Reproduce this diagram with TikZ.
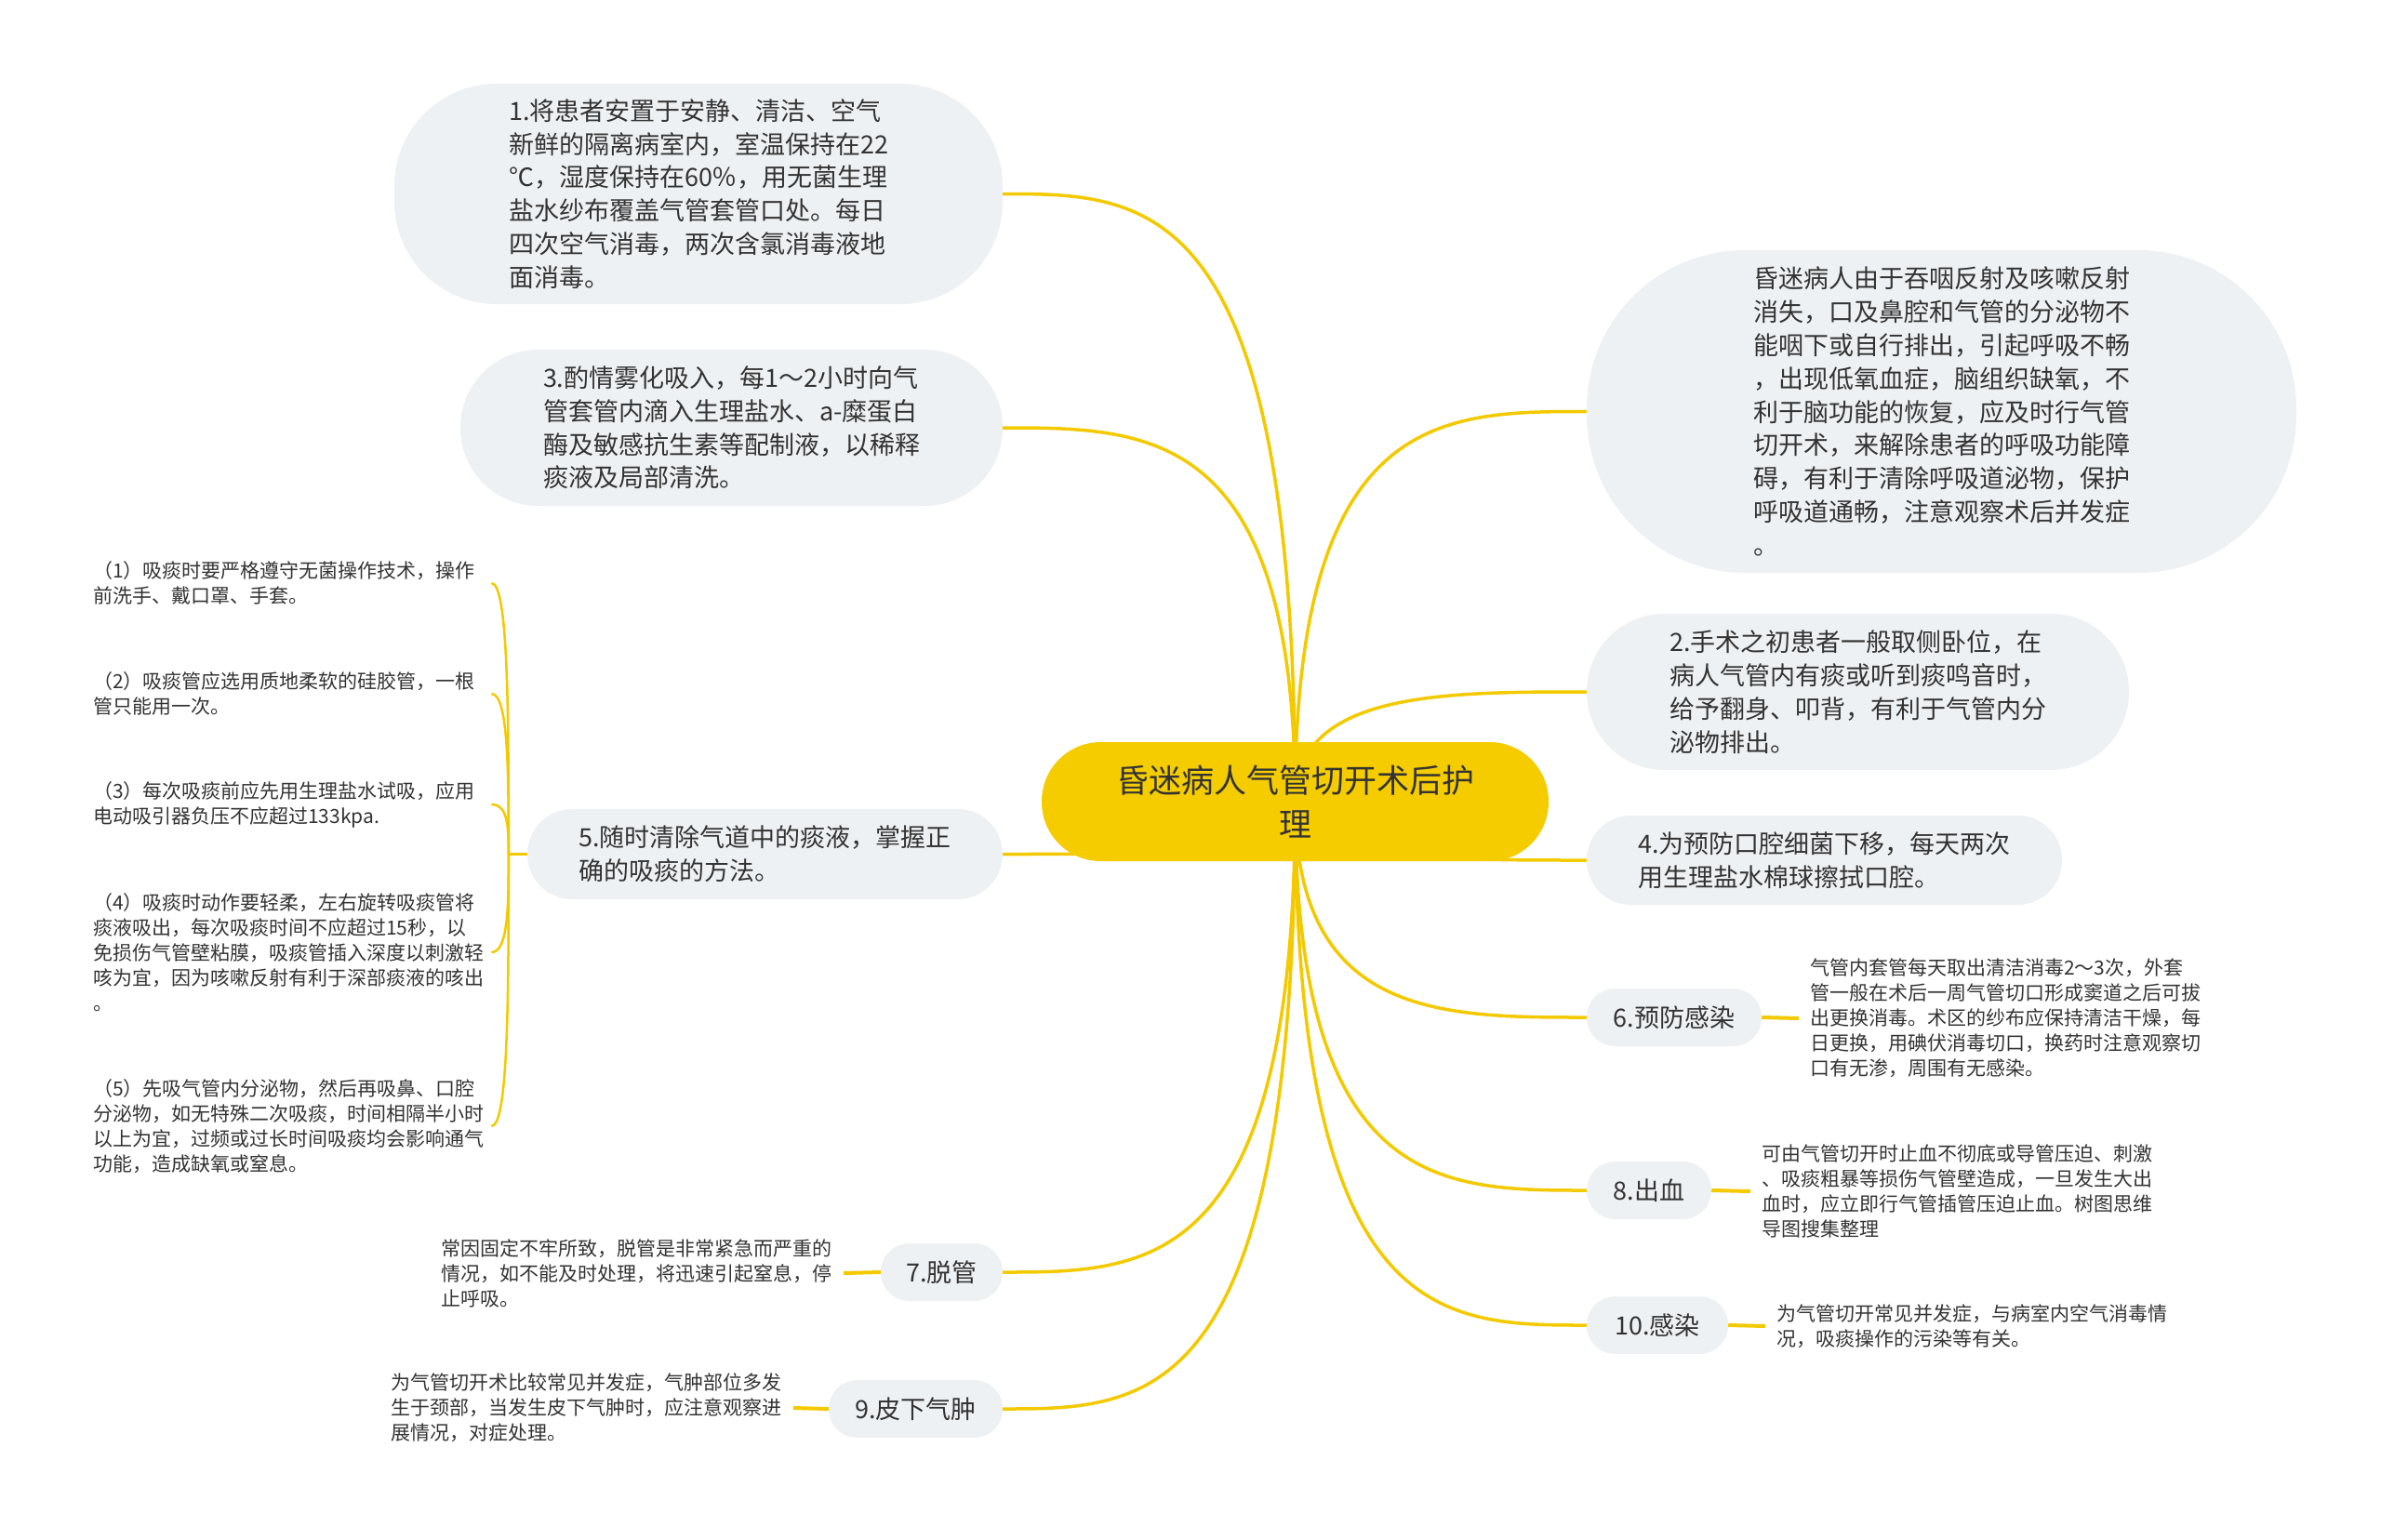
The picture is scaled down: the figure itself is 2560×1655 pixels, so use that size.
\documentclass[tikz,border=0pt]{standalone}
\usepackage{fontspec}
\newfontfamily\cjk{Noto Sans CJK SC}
\usetikzlibrary{calc}
\pgfdeclarelayer{bg}
\pgfsetlayers{bg,main}
\definecolor{gold}{HTML}{F5CC00}
\definecolor{linec}{HTML}{F3C900}
\definecolor{nodegray}{HTML}{EEF1F4}
\definecolor{txt}{HTML}{333333}
\tikzset{
  topic/.style={fill=nodegray, text=txt, font=\cjk\fontsize{27}{35.8}\selectfont, align=left, inner sep=0pt},
  rootnode/.style={fill=gold, text=txt, font=\cjk\fontsize{35}{47}\selectfont, align=center, inner sep=0pt},
  detail/.style={text=txt, font=\cjk\fontsize{21}{27}\selectfont, align=left, inner xsep=12pt, inner ysep=0pt},
  subitem/.style={text=txt, font=\cjk\fontsize{21}{27}\selectfont, align=left, text width=420pt, inner xsep=8pt, inner ysep=0pt},
  mainline/.style={draw=linec, line width=3.5pt},
  detline/.style={draw=linec, line width=4pt},
  subline/.style={draw=linec, line width=2.5pt},
}
\newcommand{\branch}[2]{\draw[mainline] (#1.center) .. controls (#1.center |- #2) and ($(#1.center |- #2)!0.5!(#2)$) .. (#2);}
\begin{document}
\begin{tikzpicture}[x=1pt,y=-1pt]
\path[use as bounding box] (0,0) rectangle (2560,1655);

% central
\node[rootnode, minimum width=545pt, minimum height=128pt, rounded corners=63.5pt] (c) at (1392.5,862) {昏迷病人气管切开术后护\\理};

% left topics
\node[topic, minimum width=654pt, minimum height=237pt, rounded corners=110pt] (n1) at (751,208.5) {1.将患者安置于安静、清洁、空气\\新鲜的隔离病室内，室温保持在22\\℃，湿度保持在60％，用无菌生理\\盐水纱布覆盖气管套管口处。每日\\四次空气消毒，两次含氯消毒液地\\面消毒。};
\node[topic, minimum width=583pt, minimum height=168pt, rounded corners=83.5pt] (n3) at (786.5,460) {3.酌情雾化吸入，每1～2小时向气\\管套管内滴入生理盐水、a-糜蛋白\\酶及敏感抗生素等配制液，以稀释\\痰液及局部清洗。};
\node[topic, minimum width=511pt, minimum height=97pt, rounded corners=48pt] (n5) at (822.5,918.5) {5.随时清除气道中的痰液，掌握正\\确的吸痰的方法。};
\node[topic, minimum width=131pt, minimum height=62pt, rounded corners=30.5pt] (n7) at (1012.5,1368) {7.脱管};
\node[topic, minimum width=187pt, minimum height=62pt, rounded corners=30.5pt] (n9) at (984.5,1515) {9.皮下气肿};

% right topics
\node[topic, minimum width=763pt, minimum height=347pt, rounded corners=170pt] (nt) at (2087.5,442.5) {昏迷病人由于吞咽反射及咳嗽反射\\消失，口及鼻腔和气管的分泌物不\\能咽下或自行排出，引起呼吸不畅\\，出现低氧血症，脑组织缺氧，不\\利于脑功能的恢复，应及时行气管\\切开术，来解除患者的呼吸功能障\\碍，有利于清除呼吸道泌物，保护\\呼吸道通畅，注意观察术后并发症\\。};
\node[topic, minimum width=583pt, minimum height=168pt, rounded corners=83.5pt] (n2) at (1997.5,744) {2.手术之初患者一般取侧卧位，在\\病人气管内有痰或听到痰鸣音时，\\给予翻身、叩背，有利于气管内分\\泌物排出。};
\node[topic, minimum width=511pt, minimum height=96pt, rounded corners=47.5pt] (n4) at (1961.5,925) {4.为预防口腔细菌下移，每天两次\\用生理盐水棉球擦拭口腔。};
\node[topic, minimum width=188pt, minimum height=62pt, rounded corners=30.5pt] (n6) at (1800,1094) {6.预防感染};
\node[topic, minimum width=134pt, minimum height=62pt, rounded corners=30.5pt] (n8) at (1773,1280) {8.出血};
\node[topic, minimum width=152pt, minimum height=62pt, rounded corners=30.5pt] (n10) at (1782,1425) {10.感染};

% details
\node[detail, anchor=west] (d6) at (1934,1095) {气管内套管每天取出清洁消毒2～3次，外套\\管一般在术后一周气管切口形成窦道之后可拔\\出更换消毒。术区的纱布应保持清洁干燥，每\\日更换，用碘伏消毒切口，换药时注意观察切\\口有无渗，周围有无感染。};
\node[detail, anchor=west] (d8) at (1882,1281) {可由气管切开时止血不彻底或导管压迫、刺激\\、吸痰粗暴等损伤气管壁造成，一旦发生大出\\血时，应立即行气管插管压迫止血。树图思维\\导图搜集整理};
\node[detail, anchor=west] (d10) at (1898,1426) {为气管切开常见并发症，与病室内空气消毒情\\况，吸痰操作的污染等有关。};
\node[detail, anchor=east] (d7) at (907,1369) {常因固定不牢所致，脱管是非常紧急而严重的\\情况，如不能及时处理，将迅速引起窒息，停\\止呼吸。};
\node[detail, anchor=east] (d9) at (853,1514) {为气管切开术比较常见并发症，气肿部位多发\\生于颈部，当发生皮下气肿时，应注意观察进\\展情况，对症处理。};

% sub items of 5
\node[subitem, anchor=west] (s1) at (92,627) {（1）吸痰时要严格遵守无菌操作技术，操作\\前洗手、戴口罩、手套。};
\node[subitem, anchor=west] (s2) at (92,746) {（2）吸痰管应选用质地柔软的硅胶管，一根\\管只能用一次。};
\node[subitem, anchor=west] (s3) at (92,865) {（3）每次吸痰前应先用生理盐水试吸，应用\\电动吸引器负压不应超过133kpa.};
\node[subitem, anchor=west] (s4) at (92,1024) {（4）吸痰时动作要轻柔，左右旋转吸痰管将\\痰液吸出，每次吸痰时间不应超过15秒，以\\免损伤气管壁粘膜，吸痰管插入深度以刺激轻\\咳为宜，因为咳嗽反射有利于深部痰液的咳出\\。};
\node[subitem, anchor=west] (s5) at (92,1211) {（5）先吸气管内分泌物，然后再吸鼻、口腔\\分泌物，如无特殊二次吸痰，时间相隔半小时\\以上为宜，过频或过长时间吸痰均会影响通气\\功能，造成缺氧或窒息。};
\coordinate (j5) at ($(n5.west)+(-20,0)$);

\begin{pgfonlayer}{bg}
\branch{c}{n1.east}
\branch{c}{n3.east}
\branch{c}{n5.east}
\branch{c}{n7.east}
\branch{c}{n9.east}
\branch{c}{nt.west}
\branch{c}{n2.west}
\branch{c}{n4.west}
\branch{c}{n6.west}
\branch{c}{n8.west}
\branch{c}{n10.west}
\draw[detline] (n6.east) -- (d6.west);
\draw[detline] (n8.east) -- (d8.west);
\draw[detline] (n10.east) -- (d10.west);
\draw[detline] (n7.west) -- (d7.east);
\draw[detline] (n9.west) -- (d9.east);
\draw[subline] (n5.west) -- (j5);
\foreach \s in {s1,s2,s3,s4,s5}{
  \draw[subline] (j5) .. controls ($(j5)!0.5!(j5 |- \s.east)$) and (j5 |- \s.east) .. (\s.east);
}
\end{pgfonlayer}
\end{tikzpicture}
\end{document}
